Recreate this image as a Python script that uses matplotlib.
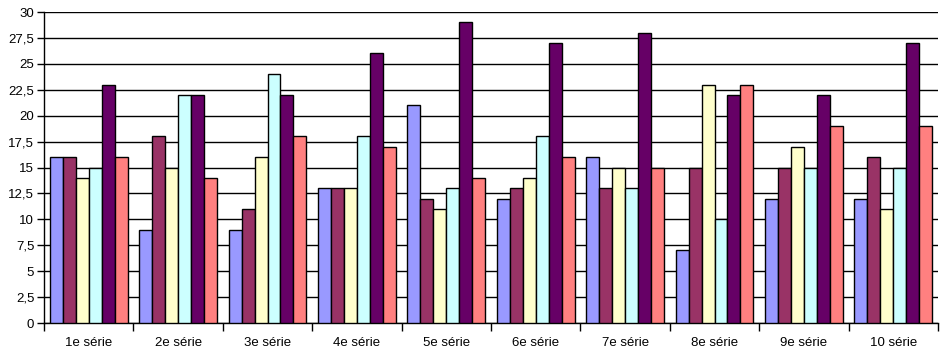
import numpy as np
import matplotlib.pyplot as plt

categories = ["1e série", "2e série", "3e série", "4e série", "5e série",
              "6e série", "7e série", "8e série", "9e série", "10 série"]
serie_a = [16, 9, 9, 13, 21, 12, 16, 7, 12, 12]
serie_b = [16, 18, 11, 13, 12, 13, 13, 15, 15, 16]
serie_c = [14, 15, 16, 13, 11, 14, 15, 23, 17, 11]
serie_d = [15, 22, 24, 18, 13, 18, 13, 10, 15, 15]
serie_e = [23, 22, 22, 26, 29, 27, 28, 22, 22, 27]
serie_f = [16, 14, 18, 17, 14, 16, 15, 23, 19, 19]
yticks = [0, 2.5, 5, 7.5, 10, 12.5, 15, 17.5, 20, 22.5, 25, 27.5, 30]

series = [serie_a, serie_b, serie_c, serie_d, serie_e, serie_f]
colors = ["#9999FF", "#993366", "#FFFFCC", "#CCFFFF", "#660066", "#FF8080"]

W, H = 949, 356
fig = plt.figure(figsize=(W / 100, H / 100), dpi=100)
ax = fig.add_axes([44 / W, (H - 323) / H, (938 - 44) / W, (323 - 12) / H])

x = np.arange(len(categories))
bw = 0.145
for i, (vals, c) in enumerate(zip(series, colors)):
    ax.bar(x + (i - 2.5) * bw, vals, width=bw, color=c, edgecolor="black",
           linewidth=1, zorder=3)

ax.set_xlim(-0.5, len(categories) - 0.5)
ax.set_ylim(0, 30)
ax.set_yticks(yticks)
ax.set_yticklabels([str(int(t)) if t == int(t) else str(t).replace(".", ",")
                    for t in yticks], fontsize=9.5, family="Liberation Sans")
ax.yaxis.grid(True, color="black", linewidth=1, zorder=0)

ax.set_xticks(x)
ax.set_xticklabels(categories, fontsize=9.5, family="Liberation Sans")
ax.tick_params(axis="x", length=0, pad=10)
ax.set_xticks(np.arange(-0.5, len(categories)), minor=True)
ax.tick_params(axis="x", which="minor", length=6, width=1, direction="out")
ax.tick_params(axis="y", length=5, width=1, direction="out", pad=2)

for s in ["top", "right"]:
    ax.spines[s].set_visible(False)
ax.spines["left"].set_linewidth(1)
ax.spines["bottom"].set_linewidth(1)

fig.savefig("out.png", dpi=100)
